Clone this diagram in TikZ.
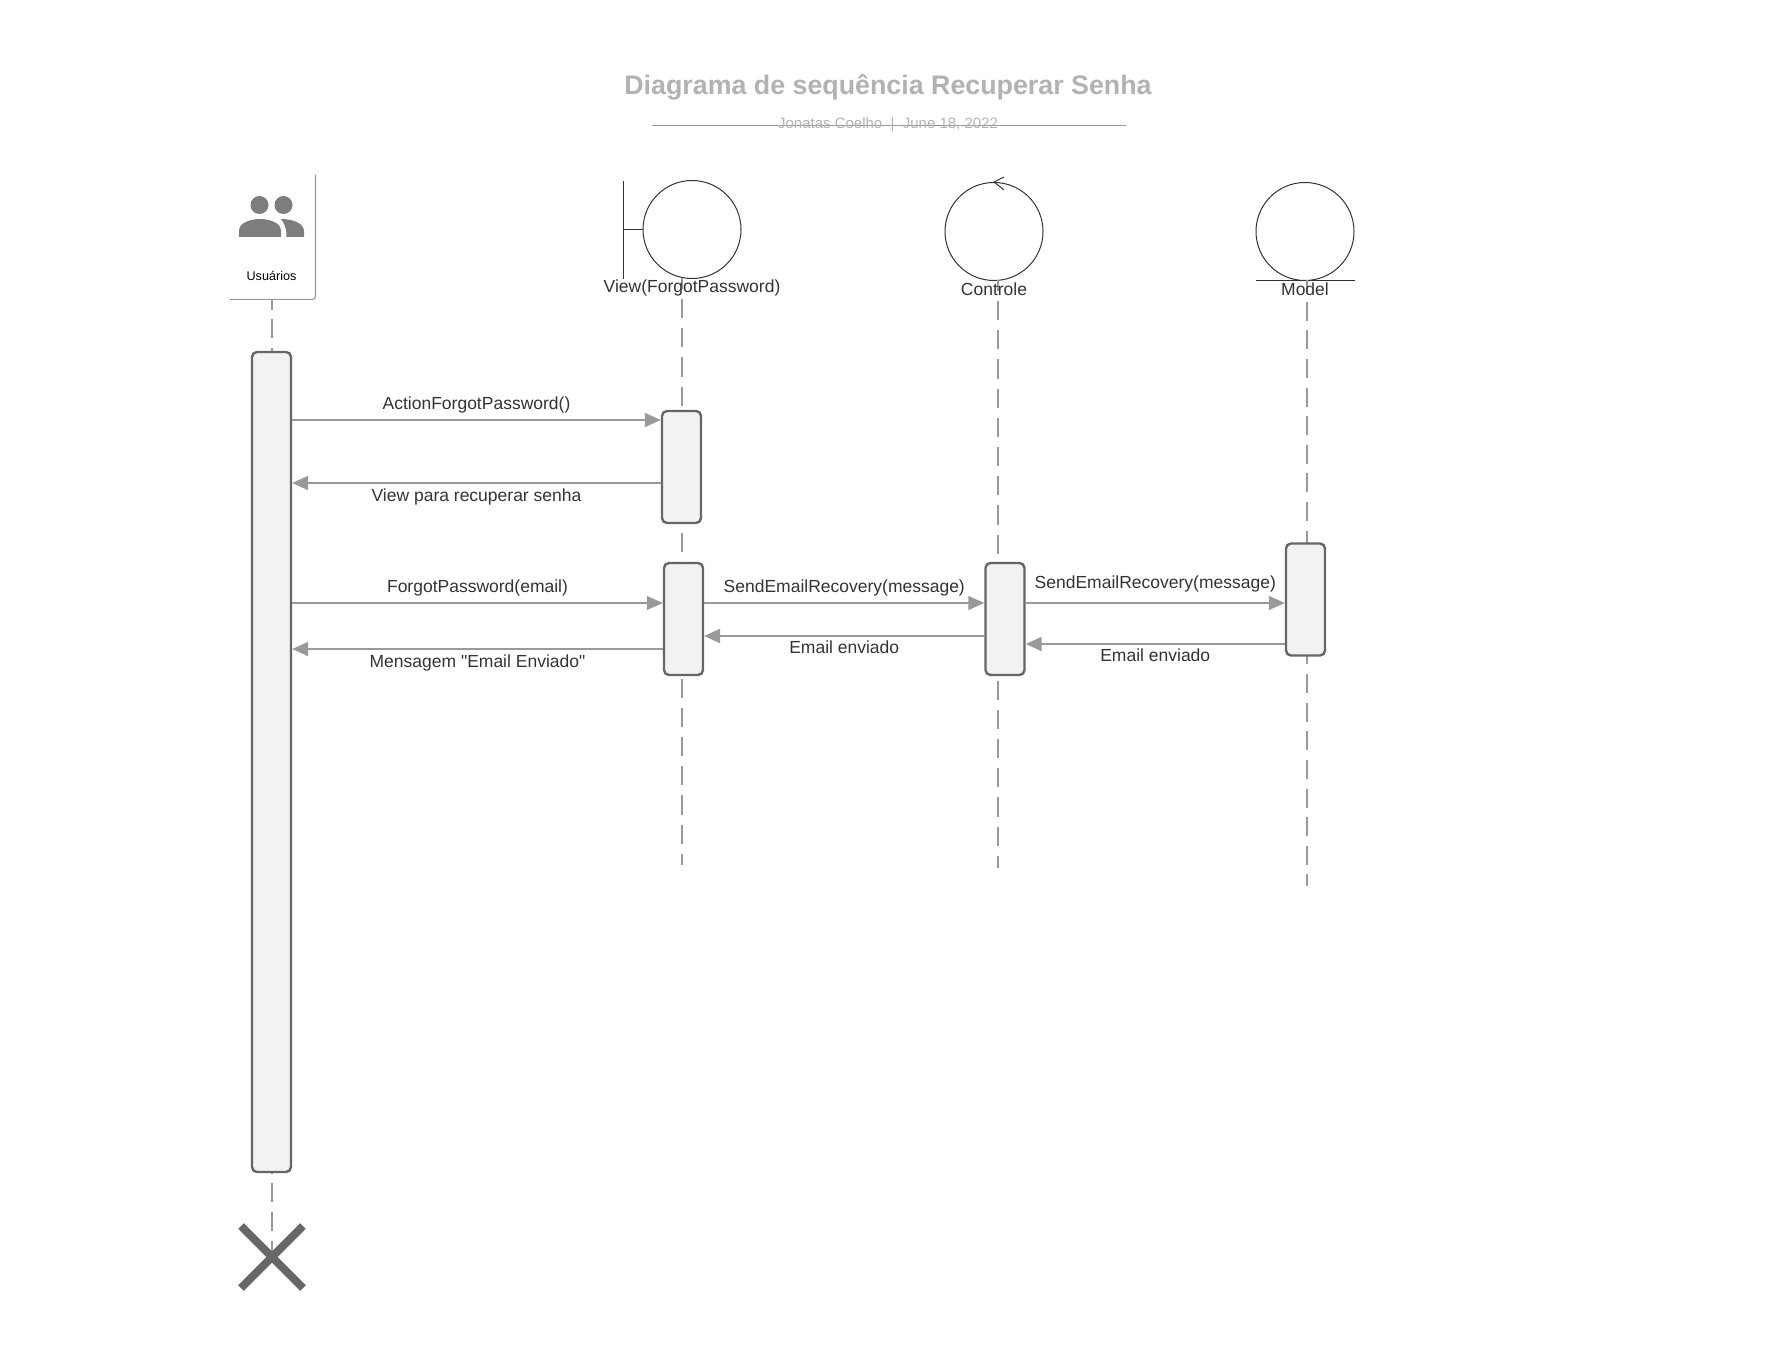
\documentclass[tikz,border=0pt]{standalone}
\usepackage{fontspec}
\setmainfont{Liberation Sans}
\newfontfamily\quotefont{Liberation Sans}
\usepackage{xcolor}
\usetikzlibrary{arrows.meta,shapes.misc}

\definecolor{barFill}{HTML}{F2F2F2}
\definecolor{barLine}{HTML}{666666}
\definecolor{msgLine}{HTML}{999999}
\definecolor{inkText}{HTML}{333333}

\begin{document}
\begin{tikzpicture}[
    x=0.5pt, y=-0.5pt,
    every node/.style={inner sep=0pt, text=inkText, font=\fontsize{8.75}{10}\selectfont},
    bar/.style={draw=barLine, fill=barFill, line width=1.2pt, rounded corners=2.5pt, minimum width=19.5pt},
    robust/.style={circle, draw=inkText, line width=0.5pt, minimum size=49pt},
    lifeline/.style={draw=msgLine, line width=1pt, dash pattern=on 9.6pt off 5pt},
    msg/.style={draw=msgLine, line width=0.55pt, -{Triangle[length=8pt,width=7pt]}},
    msgback/.style={draw=msgLine, line width=1.1pt, -{Triangle[length=8pt,width=7pt]}}
]
\useasboundingbox (0,0) rectangle (1770,1368);

% title
\node (title) at (888,87) {\fontsize{13.4}{16}\selectfont\bfseries\color{msgLine!75}Diagrama de sequência Recuperar Senha};
\coordinate (ruleLeft) at (652,126);
\coordinate (ruleRight) at (1126,126);
\draw[msgLine, line width=0.5pt] (ruleLeft) -- (ruleRight);
\node (subtitle) at (888,124.5) {\fontsize{7.5}{9}\selectfont\color{msgLine!75}Jonatas Coelho \ |\ \ June 18, 2022};

% objects
\node (userBox) at (272.5,237) [minimum width=42.5pt, minimum height=62pt] {};
\draw[msgLine, line width=0.6pt, rounded corners=1.5pt] (userBox.north east) -- (userBox.south east) -- (userBox.south west);
\node (userLabel) at (271.5,276) {\fontsize{6.3}{8}\selectfont\color{black}Usuários};
\node (headLeft) at (259.5,205) [circle, fill=barLine!85, minimum size=9pt] {};
\node (headRight) at (283.5,205) [circle, fill=barLine!85, minimum size=9pt] {};
\fill[barLine!85] (239,237) -- (239,231) .. controls (239,222) and (252,219) .. (260,219) .. controls (268,219) and (281,222) .. (281,231) -- (281,237) -- cycle;
\fill[barLine!85] (286.5,237) -- (304,237) -- (304,231) .. controls (304,224) and (294,219) .. (281,219) .. controls (284,223) and (286.5,227) .. (286.5,237) -- cycle;

\node (viewCircle) at (692,229.5) [robust] {};
\coordinate (viewBoundTop) at (623,181);
\coordinate (viewBoundBottom) at (623,279);
\draw[inkText, line width=0.5pt] (viewBoundTop) -- (viewBoundBottom);
\draw[inkText, line width=0.5pt] (viewCircle.west) -- (viewCircle.west -| viewBoundTop);

\node (controlCircle) at (994,231.5) [robust] {};
\coordinate (controlTipUp) at (1004,177);
\coordinate (controlTipDown) at (1004,190);
\draw[inkText, line width=0.5pt] (controlTipUp) -- (controlCircle.north) -- (controlTipDown);

\node (modelCircle) at (1305,231.5) [robust] {};
\draw[inkText, line width=0.5pt] (modelCircle.south -| modelCircle.west) -- (modelCircle.south -| modelCircle.east);

% lifelines
\coordinate (userStop) at (272,1252);
\coordinate (viewTop) at (682,278);
\coordinate (viewEnd) at (682,865);
\coordinate (controlTop) at (998,280);
\coordinate (controlEnd) at (998,868);
\coordinate (modelTop) at (1307,280);
\coordinate (modelEnd) at (1307,886);
\draw[lifeline, dash pattern=on 9.5pt off 4.9pt, dash phase=4.4pt] (userBox.south -| userStop) -- (userStop);
\draw[lifeline, dash phase=4.1pt] (viewTop) -- (viewEnd);
\draw[lifeline, dash phase=4.1pt] (controlTop) -- (controlEnd);
\draw[lifeline, dash pattern=on 9.5pt off 4.82pt, dash phase=3.5pt] (modelTop) -- (modelEnd);
\node (userEnd) at (272,1257) [cross out, draw=barLine, line width=4pt, minimum size=27pt] {};

\node (viewLabel) at (692,288) {View(ForgotPassword)};
\node (controlLabel) at (994,289) {Controle};
\node (modelLabel) at (1305,289) {Model};

% activations
\node (userBar) at (271.5,762) [bar, minimum height=410pt] {};
\node (viewBarA) at (681.5,467) [bar, minimum height=56pt] {};
\node (viewBarB) at (683.5,619) [bar, minimum height=56pt] {};
\node (controlBar) at (1005,619) [bar, minimum height=56pt] {};
\node (modelBar) at (1305.5,599.5) [bar, minimum height=56pt] {};

% messages
\draw[msg] (userBar.east |- 0,420) -- (viewBarA.west |- 0,420) node[pos=0.5, above=3pt] (msgAction) {ActionForgotPassword()};
\draw[msgback] (viewBarA.west |- 0,483) -- (userBar.east |- 0,483) node[pos=0.5, below=2.5pt] (msgView) {View para recuperar senha};
\draw[msg] (userBar.east |- 0,603) -- (viewBarB.west |- 0,603) node[pos=0.5, above=3pt] (msgForgot) {ForgotPassword(email)};
\draw[msgback] (viewBarB.west |- 0,649) -- (userBar.east |- 0,649) node[pos=0.5, below=2.5pt] (msgSent) {Mensagem {\quotefont"}Email Enviado{\quotefont"}};
\draw[msg] (viewBarB.east |- 0,603) -- (controlBar.west |- 0,603) node[pos=0.5, above=3pt] (msgSendA) {SendEmailRecovery(message)};
\draw[msgback] (controlBar.west |- 0,636) -- (viewBarB.east |- 0,636) node[pos=0.5, below=2pt] (msgBackA) {Email enviado};
\draw[msg] (controlBar.east |- 0,603) -- (modelBar.west |- 0,603) node[pos=0.5, above=5pt] (msgSendB) {SendEmailRecovery(message)};
\draw[msgback] (modelBar.west |- 0,644) -- (controlBar.east |- 0,644) node[pos=0.5, below=2pt] (msgBackB) {Email enviado};

\end{tikzpicture}
\end{document}
